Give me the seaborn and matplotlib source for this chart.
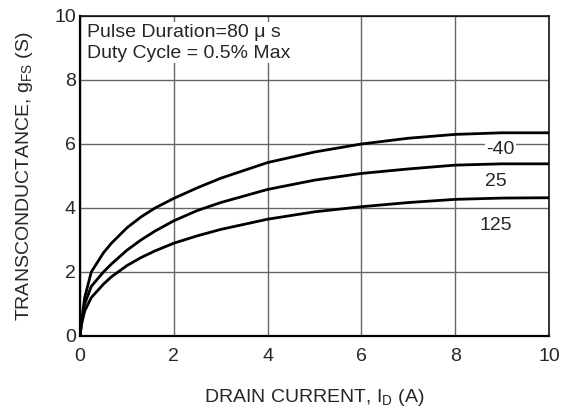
import numpy as np
import pandas as pd
import seaborn as sns
import matplotlib.pyplot as plt

# drain current (A) and transconductance (S)
current = [0, 0.03, 0.1, 0.24, 0.5, 0.67, 1.0, 1.3, 1.6, 2, 2.5, 3, 4, 5, 6, 7, 8, 9, 10]
gfs_m40 = [0, 0.45, 1.2, 2.0, 2.6, 2.9, 3.38, 3.72, 4.0, 4.3, 4.63, 4.93, 5.42, 5.75, 6.0, 6.18, 6.3, 6.35, 6.35]
gfs_25 = [0, 0.4, 1.0, 1.55, 2.0, 2.25, 2.68, 3.0, 3.28, 3.6, 3.92, 4.17, 4.58, 4.87, 5.08, 5.22, 5.34, 5.38, 5.38]
gfs_125 = [0, 0.35, 0.78, 1.2, 1.62, 1.85, 2.2, 2.45, 2.66, 2.9, 3.13, 3.33, 3.65, 3.88, 4.04, 4.17, 4.27, 4.31, 4.32]
temps = ["-40", "25", "125"]
ticks = [0, 2, 4, 6, 8, 10]

df = pd.DataFrame({
    "current": current * 3,
    "gfs": gfs_m40 + gfs_25 + gfs_125,
    "temp": [t for t in temps for _ in current],
})

sns.set_style("white")
plt.rcParams["font.family"] = ["Liberation Sans", "DejaVu Sans"]
plt.rcParams["mathtext.default"] = "regular"

fig = plt.figure(figsize=(5.69, 4.09), dpi=100)
ax = fig.add_axes([0.1406, 0.1785, 0.8243, 0.7824])

ax.grid(True, color="#666666", linewidth=1.0)
ax.set_axisbelow(True)

sns.lineplot(data=df, x="current", y="gfs", hue="temp", units="temp",
             estimator=None, palette=["black"] * 3, linewidth=2.0,
             legend=False, ax=ax, zorder=3)

ax.set_xlim(0, 10)
ax.set_ylim(0, 10)
ax.set_xticks(ticks)
ax.set_yticks(ticks)
ax.tick_params(length=0, labelsize=14)
ax.tick_params(axis="x", pad=9)
ax.tick_params(axis="y", pad=3)
for side in ["left", "bottom"]:
    ax.spines[side].set_linewidth(1.6)
for side in ["top", "right"]:
    ax.spines[side].set_linewidth(1.1)
for s in ax.spines.values():
    s.set_color("black")

ax.set_xlabel("DRAIN CURRENT, I$_{D}$ (A)", fontsize=14)
ax.set_ylabel("TRANSCONDUCTANCE, g$_{FS}$ (S)", fontsize=14)
ax.xaxis.set_label_coords(0.5, -0.16)
ax.yaxis.set_label_coords(-0.095, 0.5)

ax.text(0.14, 9.17, "Pulse Duration=80 \u03bc s\nDuty Cycle = 0.5% Max",
        fontsize=14, va="center", ha="left", linespacing=1.3,
        bbox=dict(facecolor="white", edgecolor="none", pad=1), zorder=4)

label_pos = [(8.97, 5.84), (8.86, 4.82), (8.86, 3.44)]
for t, (lx, ly) in zip(temps, label_pos):
    ax.text(lx, ly, t, fontsize=14, ha="center", va="center",
            bbox=dict(facecolor="white", edgecolor="none", pad=1), zorder=4)

fig.savefig("out.png", dpi=100)
